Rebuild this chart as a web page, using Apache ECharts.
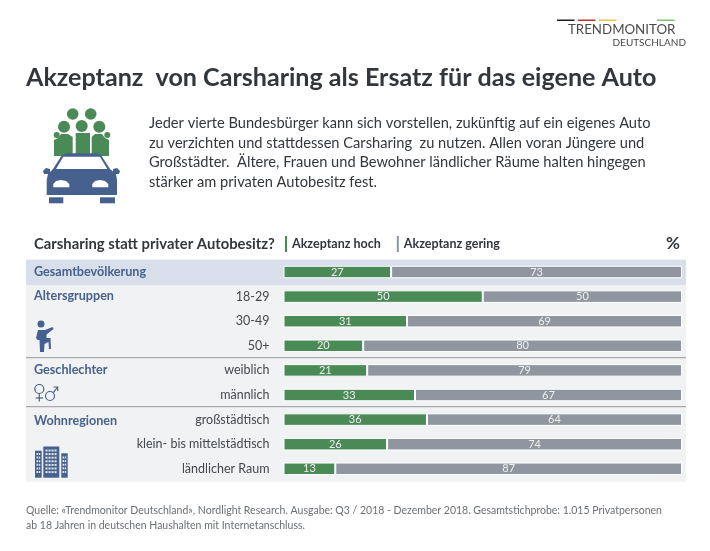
<!DOCTYPE html>
<html><head><meta charset="utf-8">
<style>html,body{margin:0;padding:0;background:#fff}#c{width:710px;height:551px}</style>
<script src="https://cdn.jsdelivr.net/npm/echarts@6/dist/echarts.min.js"></script></head>
<body><div id="c"></div>
<script>
const categories=['Gesamtbevölkerung','18-29','30-49','50+','weiblich','männlich','großstädtisch','klein- bis mittelstädtisch','ländlicher Raum'];
const hoch=[27,50,31,20,21,33,36,26,13];
const gering=[73,50,69,80,79,67,64,74,87];
const seriesNames=['Akzeptanz hoch','Akzeptanz gering'];
const groups=[['Gesamtbevölkerung',272],['Altersgruppen',296],['Geschlechter',370],['Wohnregionen',421]];
const title='Akzeptanz  von Carsharing als Ersatz für das eigene Auto';
const intro=['Jeder vierte Bundesbürger kann sich vorstellen, zukünftig auf ein eigenes Auto','zu verzichten und stattdessen Carsharing  zu nutzen. Allen voran Jüngere und','Großstädter.  Ältere, Frauen und Bewohner ländlicher Räume halten hingegen','stärker am privaten Autobesitz fest.'];
const source=['Quelle: «Trendmonitor Deutschland», Nordlight Research. Ausgabe: Q3 / 2018 - Dezember 2018. Gesamtstichprobe: 1.015 Privatpersonen','ab 18 Jahren in deutschen Haushalten mit Internetanschluss.'];
const GREEN='#4a8a56',GREY='#8f969f',BLUE='#47618e',DARK='#33373c';
const F='Lato, "Open Sans", sans-serif';
const T=(x,y,text,size,fill,weight,align,family)=>({type:'text',x,y,z:5,style:{text,fontSize:size,fill,fontWeight:weight||'normal',align:align||'left',verticalAlign:'middle',fontFamily:family||F}});
const R=(x,y,w,h,fill,z,r)=>({type:'rect',z:z||1,shape:{x,y,width:w,height:h,r:r||0},style:{fill}});
const C=(cx,cy,r,fill)=>({type:'circle',z:4,shape:{cx,cy,r},style:{fill}});
const P=(points,fill,z)=>({type:'polygon',z:z||4,shape:{points},style:{fill}});
const L=(points)=>({type:'polyline',z:4,shape:{points},style:{stroke:BLUE,lineWidth:1.2,fill:'none'}});
const ring=(cx,cy,r)=>({type:'circle',z:4,shape:{cx,cy,r},style:{fill:'none',stroke:BLUE,lineWidth:1.2}});
const windows=[];
[[36.5,2,453],[45.5,4,449.5],[62.5,2,456.5]].forEach(b=>{
 for(let c=0;c<b[1];c++)for(let r=0;r<Math.floor((475-b[2])/3.6);r++)
  windows.push({type:'rect',z:5,shape:{x:b[0]+c*(b[1]===4?3:2.2),y:b[2]+r*3.6,width:b[1]===4?2.1:1.5,height:2},style:{fill:'#dfe3ea'}});
});
const g=[
 R(26,259.7,660,222,'#f1f2f3'),R(26,259.7,660,25.3,'#d9dfea',2),
 R(26,357,660,1.3,'#a9abad',2),R(26,406,660,1.3,'#a9abad',2),
 R(557,19.5,17.5,1.5,'#1c1c1c'),R(578,19.5,17.5,1.5,'#c8302c'),R(599,19.5,17.5,1.5,'#e8c83a'),R(657,19.5,17.5,1.5,'#7fbf6e'),
 T(568,30,'TRENDMONITOR',13.3,'#4a4a4a'),
 T(686,43,'DEUTSCHLAND',10,'#4a4a4a','normal','right'),
 T(26,78,title,25.1,DARK,'bold'),
 ...intro.map((t,i)=>T(149,123+i*19.8,t,14.65,DARK)),
 T(34,244,'Carsharing statt privater Autobesitz?',14.8,DARK,'bold'),
 T(680,244,'%',17,DARK,'bold','right'),
 ...groups.map(a=>T(34,a[1],a[0],12.6,BLUE,'bold')),
 ...source.map((t,i)=>T(26,511+i*14.5,t,10.5,'#6b6f74')),
 // people icon
 C(72.7,114,5.8,GREEN),C(90.7,114,5.8,GREEN),C(64,126.7,6,GREEN),C(81.7,126,6,GREEN),C(99.3,126.7,6,GREEN),C(56.7,135,3,GREEN),C(107.3,135,3,GREEN),
 P([[54,140],[58,138],[61,134],[68,134],[72.7,137],[72.7,156],[54,156]],GREEN),
 P([[75.7,133],[90,133],[90,155],[75.7,155]],GREEN),
 P([[109,140],[105,138],[102,134],[95,134],[91.7,137],[91.7,156],[109,156]],GREEN),
 // car icon
 P([[67,153.3],[96,153.3],[101,155],[110,169],[116,174],[117,180],[117,195],[46.7,195],[46.7,180],[48,174],[53,169],[62,155]],BLUE),
 P([[43,171],[46,168],[50,169],[50,174],[44,174]],BLUE),P([[120,171],[117,168],[113,169],[113,174],[119,174]],BLUE),
 P([[56,169],[63.3,156.7],[100,156.7],[107.3,169]],'#fff',6),
 P([[53.3,187.3],[53.3,184],[56,181],[61,180],[66,181],[69.3,184],[69.3,187.3]],'#fff',6),
 P([[92.3,187.3],[92.3,184],[95,181],[100,180],[105,181],[108.3,184],[108.3,187.3]],'#fff',6),
 R(49,197.3,14.3,6,BLUE,4),R(100,197.3,15,6,BLUE,4),
 // person icon
 C(41,324,3.5,BLUE),
 P([[38,330],[45,330],[52.5,327],[53.5,329],[46.5,334.5],[46.5,338],[50.5,338],[51,349],[49,349],[48.5,342],[44.5,344],[44,352],[40,352],[39.5,340],[37.5,340],[36,338]],BLUE),
 // gender icon
 ring(39.3,389,4.5),L([[39.3,393.5],[39.3,401.5]]),L([[35.7,398],[43,398]]),
 ring(50,396,4.5),L([[53.3,392.7],[57.7,387]]),L([[53.5,387],[57.7,387],[57.7,391]]),
 // buildings icon
 R(35,450.7,6.7,27,BLUE,4),R(43.3,446.5,16,31.2,BLUE,4),R(61.3,453.3,6.4,24.4,BLUE,4),
 ...windows
];
const mk=(name,data,color)=>({name,type:'bar',stack:'a',data,barWidth:12.5,
 itemStyle:{color,borderColor:'#fff',borderWidth:1},
 label:{show:true,position:'inside',color:'#eef0ee',fontSize:11,fontFamily:F}});
const chart=echarts.init(document.getElementById('c'),null,{renderer:'canvas'});
chart.setOption({
 animation:false,
 graphic:{elements:g},
 legend:{data:seriesNames,left:285,top:236,padding:0,icon:'rect',itemWidth:2,itemHeight:16,itemGap:16,itemStyle:{borderWidth:0},
  textStyle:{fontFamily:F,fontWeight:'bold',fontSize:12.5,color:DARK,padding:[0,0,0,0]},selectedMode:false},
 grid:{left:283.5,top:259.7,width:398.5,height:221.4},
 xAxis:{type:'value',min:0,max:100,show:false},
 yAxis:{type:'category',inverse:true,z:10,data:categories,axisLine:{show:false},axisTick:{show:false},splitLine:{show:false},
  axisLabel:{margin:14,fontFamily:F,fontSize:12.5,color:'#44484d',formatter:v=>v===categories[0]?'':v}},
 series:[mk(seriesNames[0],hoch,GREEN),mk(seriesNames[1],gering,GREY)]
});
</script></body></html>
